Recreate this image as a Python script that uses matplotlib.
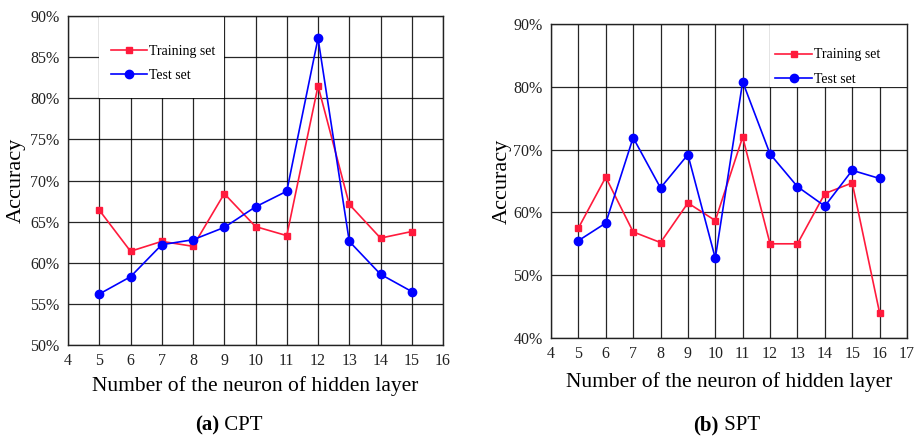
import matplotlib
matplotlib.use('Agg')
import matplotlib.pyplot as plt
from matplotlib.patches import Rectangle
from matplotlib.ticker import FuncFormatter

plt.rcParams['font.family'] = ['Liberation Serif', 'DejaVu Serif']

# (a) CPT
cpt_neurons = [5, 6, 7, 8, 9, 10, 11, 12, 13, 14, 15]
cpt_train = [66.4, 61.4, 62.6, 62.0, 68.4, 64.4, 63.3, 81.5, 67.1, 63.0, 63.8]
cpt_test = [56.2, 58.3, 62.2, 62.8, 64.3, 66.8, 68.7, 87.3, 62.6, 58.6, 56.5]

# (b) SPT
spt_neurons = [5, 6, 7, 8, 9, 10, 11, 12, 13, 14, 15, 16]
spt_train = [57.5, 65.6, 56.9, 55.2, 61.5, 58.7, 72.0, 55.0, 55.0, 63.0, 64.7, 44.0]
spt_test = [55.5, 58.3, 71.9, 63.9, 69.2, 52.7, 80.8, 69.3, 64.1, 61.0, 66.7, 65.4]

RED = '#ff1a3c'
BLUE = '#0000ff'

fig = plt.figure(figsize=(9.18, 4.38), dpi=100)
ax1 = fig.add_axes([0.0741, 0.2123, 0.4085, 0.7511])
ax2 = fig.add_axes([0.6002, 0.2283, 0.3878, 0.7169])

pct = FuncFormatter(lambda v, p: '%d%%' % v)


def draw(ax, x, train, test, xlim, ylim, ystep, box, leg_pos, ylpad, xlpad):
    ax.set_xlim(*xlim)
    ax.set_ylim(*ylim)
    ax.set_xticks(range(xlim[0], xlim[1] + 1))
    ax.set_yticks(range(ylim[0], ylim[1] + 1, ystep))
    ax.yaxis.set_major_formatter(pct)
    ax.grid(True, color='black', lw=0.9, alpha=0.85)
    ax.set_axisbelow(True)
    for s in ax.spines.values():
        s.set_linewidth(1.0)
        s.set_color('#222222')
        s.set_zorder(5)
    ax.tick_params(length=0, labelsize=11.5, pad=6, colors='#222222')
    # white area behind the legend
    ax.add_patch(Rectangle((box[0], box[1]), box[2], box[3], facecolor='white',
                           edgecolor='none', zorder=1.5))
    ax.plot(x, train, color=RED, lw=1.2, marker='s', ms=5, zorder=3,
            label='Training set')
    ax.plot(x, test, color=BLUE, lw=1.2, marker='o', ms=6, zorder=3,
            label='Test set')
    ax.legend(loc='upper left', bbox_to_anchor=leg_pos, frameon=False,
              fontsize=10, handlelength=2.6, handletextpad=0.15,
              labelspacing=0.8, borderaxespad=0)
    ax.set_xlabel('Number of the neuron of hidden layer', fontsize=15.5,
                  labelpad=xlpad)
    ax.set_ylabel('Accuracy', fontsize=16, labelpad=ylpad)


draw(ax1, cpt_neurons, cpt_train, cpt_test, (4, 16), (50, 90), 5,
     (5, 80, 4, 10), (0.1, 0.93), 3, 5)
draw(ax2, spt_neurons, spt_train, spt_test, (4, 17), (40, 90), 10,
     (12, 80, 5, 10), (0.615, 0.94), 1, 7)

# panel captions
for xs, tag, name in [(0.2386, '(a)', 'CPT'), (0.783, '(b)', 'SPT')]:
    fig.text(xs, 0.028, tag, ha='right', va='center', fontsize=15,
             fontweight='bold')
    fig.text(xs, 0.028, ' ' + name, ha='left', va='center', fontsize=15)

fig.savefig('out.png', dpi=100)
